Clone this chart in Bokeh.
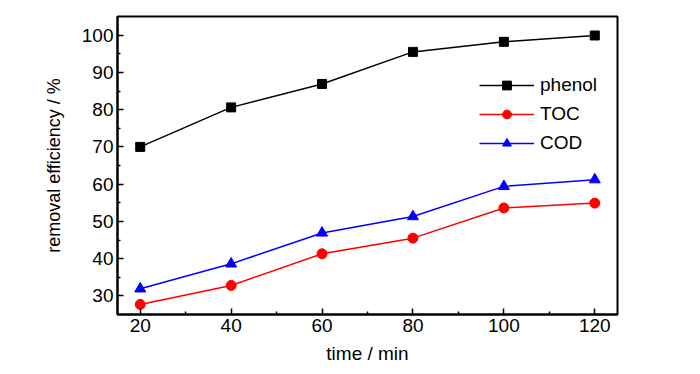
from bokeh.plotting import figure
from bokeh.embed import file_html
from bokeh.resources import INLINE
from bokeh.models import Range1d, Legend, LegendItem, FixedTicker

time_min = [20, 40, 60, 80, 100, 120]
phenol = [70.0, 80.6, 86.9, 95.5, 98.2, 99.9]
toc = [27.7, 32.8, 41.3, 45.5, 53.6, 54.9]
cod = [31.9, 38.6, 46.9, 51.3, 59.4, 61.2]
x_ticks = [20, 40, 60, 80, 100, 120]
x_minor = [30, 50, 70, 90, 110]
y_ticks = [30, 40, 50, 60, 70, 80, 90, 100]
y_minor = [35, 45, 55, 65, 75, 85, 95]

FONT = "Liberation Sans, Arial, sans-serif"

p = figure(width=692, height=366, output_backend="svg", toolbar_location=None,
           x_range=Range1d(15, 125), y_range=Range1d(25, 105),
           min_border_left=117, min_border_right=75, min_border_top=16, min_border_bottom=50)
p.grid.visible = False
p.outline_line_color = "black"
p.outline_line_width = 2
p.background_fill_color = "white"
p.border_fill_color = "white"

for ax in (p.xaxis[0], p.yaxis[0]):
    ax.axis_line_width = 2
    ax.axis_line_color = "black"
    ax.major_tick_in = 6
    ax.major_tick_out = 0
    ax.minor_tick_in = 3
    ax.minor_tick_out = 0
    ax.major_tick_line_width = 1.5
    ax.minor_tick_line_width = 1.5
    ax.major_label_text_font = FONT
    ax.major_label_text_font_size = "19px"
    ax.major_label_text_color = "black"
    ax.axis_label_text_font = FONT
    ax.axis_label_text_font_size = "19px"
    ax.axis_label_text_font_style = "normal"
    ax.axis_label_text_color = "black"
    ax.major_label_standoff = 4

p.yaxis[0].axis_label_text_font_size = "18px"
p.xaxis[0].ticker = FixedTicker(ticks=x_ticks, minor_ticks=x_minor)
p.yaxis[0].ticker = FixedTicker(ticks=y_ticks, minor_ticks=y_minor)
p.xaxis[0].axis_label = "time / min"
p.yaxis[0].axis_label = "removal efficiency / %"
p.xaxis[0].axis_label_standoff = 8
p.yaxis[0].axis_label_standoff = 15

l1 = p.line(time_min, phenol, line_color="black", line_width=1.5)
m1 = p.scatter(time_min, phenol, marker="square", size=9, fill_color="black", line_color="black")
l2 = p.line(time_min, toc, line_color="#ff0000", line_width=1.5)
m2 = p.scatter(time_min, toc, marker="circle", size=10, fill_color="#ff0000", line_color="#ff0000")
l3 = p.line(time_min, cod, line_color="#0000ff", line_width=1.5)
m3 = p.scatter(time_min, cod, marker="triangle", size=11, fill_color="#0000ff", line_color="#0000ff")

legend = Legend(items=[LegendItem(label="phenol", renderers=[l1, m1]),
                       LegendItem(label="TOC", renderers=[l2, m2]),
                       LegendItem(label="COD", renderers=[l3, m3])],
                location=(362, 160), padding=0, margin=0, spacing=7,
                glyph_width=55, glyph_height=22, label_height=22, label_standoff=6,
                border_line_color=None, background_fill_alpha=0,
                label_text_font=FONT, label_text_font_size="19px", label_text_color="black")
p.add_layout(legend, "center")

open("out.html", "w").write(file_html(p, INLINE))
